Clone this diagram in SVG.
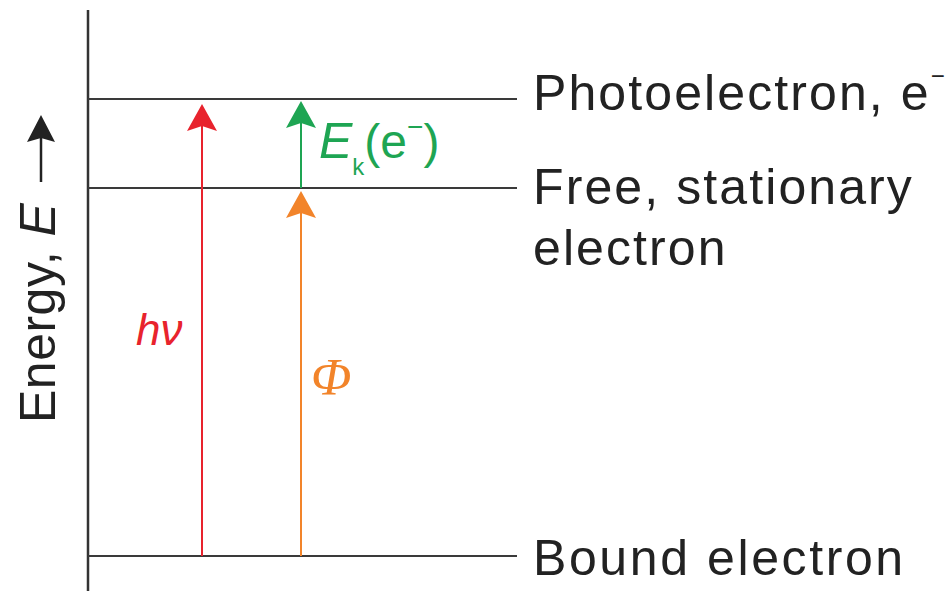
<svg xmlns="http://www.w3.org/2000/svg" width="948" height="591" viewBox="0 0 948 591">
<style>
.lbl{font-family:"Liberation Sans",Arial,sans-serif;font-size:50px;fill:#222;letter-spacing:2.1px}
.lvl{stroke:#3a3a3a;stroke-width:2;fill:none}
</style>
<defs>
<marker id="hRed" markerUnits="userSpaceOnUse" orient="auto" refX="0" refY="0" markerWidth="40" markerHeight="40" viewBox="-10 -20 40 40" overflow="visible"><path d="M20,0 L-7,-15 L-2,0 L-7,15 Z" fill="#e8232d"/></marker>
<marker id="hGreen" markerUnits="userSpaceOnUse" orient="auto" refX="0" refY="0" markerWidth="40" markerHeight="40" viewBox="-10 -20 40 40" overflow="visible"><path d="M20,0 L-7,-15 L-2,0 L-7,15 Z" fill="#1ea553"/></marker>
<marker id="hOrange" markerUnits="userSpaceOnUse" orient="auto" refX="0" refY="0" markerWidth="40" markerHeight="40" viewBox="-10 -20 40 40" overflow="visible"><path d="M20,0 L-7,-15 L-2,0 L-7,15 Z" fill="#f2842a"/></marker>
<marker id="hBlack" markerUnits="userSpaceOnUse" orient="auto" refX="0" refY="0" markerWidth="40" markerHeight="40" viewBox="-10 -20 40 40" overflow="visible"><path d="M23,0 L-4,-14 L0,0 L-4,14 Z" fill="#222"/></marker>
</defs>

<g id="axis">
<line x1="88" y1="10" x2="88" y2="591" stroke="#333" stroke-width="2.5"/>
<text transform="translate(55,423) rotate(-90)" font-family="Liberation Sans,Arial,sans-serif" font-size="50" fill="#222" letter-spacing="0.5">Energy, <tspan font-style="italic">E</tspan></text>
<line x1="41" y1="182" x2="41" y2="138" stroke="#222" stroke-width="2.5" marker-end="url(#hBlack)"/>
</g>

<g id="level-photoelectron">
<line class="lvl" x1="88" y1="99" x2="517" y2="99"/>
<text class="lbl" x="533" y="110">Photoelectron, e<tspan font-size="24" dy="-26" style="letter-spacing:0">−</tspan></text>
</g>
<g id="level-free">
<line class="lvl" x1="88" y1="188" x2="517" y2="188"/>
<text class="lbl" x="533" y="204">Free, stationary</text>
<text class="lbl" x="533" y="265">electron</text>
</g>
<g id="level-bound">
<line class="lvl" x1="88" y1="556" x2="517" y2="556"/>
<text class="lbl" x="533" y="575" style="letter-spacing:2.6px">Bound electron</text>
</g>

<g id="connectors">
<line x1="202" y1="556" x2="202" y2="124" stroke="#e8232d" stroke-width="2" marker-end="url(#hRed)"/>
<line x1="301" y1="188" x2="301" y2="121" stroke="#1ea553" stroke-width="2" marker-end="url(#hGreen)"/>
<line x1="301" y1="556" x2="301" y2="211" stroke="#f2842a" stroke-width="2" marker-end="url(#hOrange)"/>
</g>

<g id="label-hv">
<text x="136" y="345" font-family="Liberation Sans,Arial,sans-serif" font-style="italic" font-size="44" fill="#e8232d">hν</text>
</g>
<g id="label-phi">
<text x="311" y="395" font-family="Liberation Serif,Times New Roman,serif" font-style="italic" font-size="53" fill="#f2842a">Φ</text>
</g>
<g id="label-ek">
<text x="319" y="158" font-family="Liberation Sans,Arial,sans-serif" font-size="48" fill="#1ea553"><tspan font-style="italic" font-size="50">E</tspan><tspan font-size="24" dy="17">k</tspan><tspan dy="-17">(e</tspan><tspan font-size="28" dy="-22">−</tspan><tspan dy="22">)</tspan></text>
</g>
</svg>
